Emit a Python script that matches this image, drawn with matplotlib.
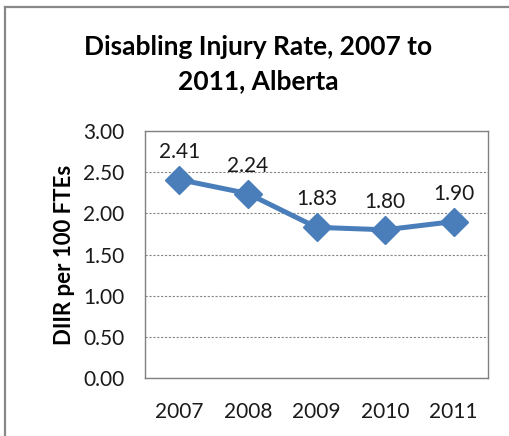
import matplotlib.pyplot as plt
from matplotlib.lines import Line2D

# dados do gráfico
anos = ['2007', '2008', '2009', '2010', '2011']
taxas = [2.41, 2.24, 1.83, 1.80, 1.90]
ticks_y = [0.0, 0.5, 1.0, 1.5, 2.0, 2.5, 3.0]

plt.rcParams['font.family'] = ['Lato', 'DejaVu Sans']

fig = plt.figure(figsize=(5.09, 4.36), dpi=100)
W, H = 509, 436
# área do gráfico em pixels (esq, topo, dir, base)
ax = fig.add_axes([145 / W, 1 - 378 / H, (488 - 145) / W, (378 - 131) / H])

x = list(range(len(anos)))
ax.plot(x, taxas, color='#4A7EBB', lw=3.6, marker='D', markersize=14,
        markeredgecolor='#4A7EBB', markerfacecolor='#4A7EBB', zorder=3)

# rótulos dos valores
for xi, v in zip(x, taxas):
    ax.annotate(f'{v:.2f}', (xi, v), xytext=(0, 13), textcoords='offset points',
                ha='center', va='bottom', fontsize=15, color='#1a1a1a')

ax.set_xlim(-0.5, len(anos) - 0.5)
ax.set_ylim(0, 3)
ax.set_xticks(x)
ax.set_xticklabels(anos)
ax.set_yticks(ticks_y)
ax.set_yticklabels([f'{t:.2f}' for t in ticks_y])
ax.tick_params(length=0, labelsize=15, colors='#1a1a1a')
ax.tick_params(axis='x', pad=17)
ax.tick_params(axis='y', pad=15)

ax.grid(axis='y', linestyle=(0, (2, 1.5)), color='#888888', lw=0.8)
for s in ax.spines.values():
    s.set_color('#808080')
    s.set_linewidth(1.0)

ax.set_ylabel('DIIR per 100 FTEs', fontsize=16, fontweight='bold', labelpad=6)

fig.text(258 / W, 1 - 47 / H, 'Disabling Injury Rate, 2007 to', ha='center', va='center',
         fontsize=19, fontweight='bold')
fig.text(258 / W, 1 - 81 / H, '2011, Alberta', ha='center', va='center',
         fontsize=19, fontweight='bold')

# moldura cinzenta do gráfico
fig.add_artist(Line2D([5 / W, 5 / W], [0, 1 - 7 / H], color='#888888', lw=1.6))
fig.add_artist(Line2D([5 / W, 1], [1 - 7 / H, 1 - 7 / H], color='#888888', lw=1.6))

fig.savefig('out.png', dpi=100)
